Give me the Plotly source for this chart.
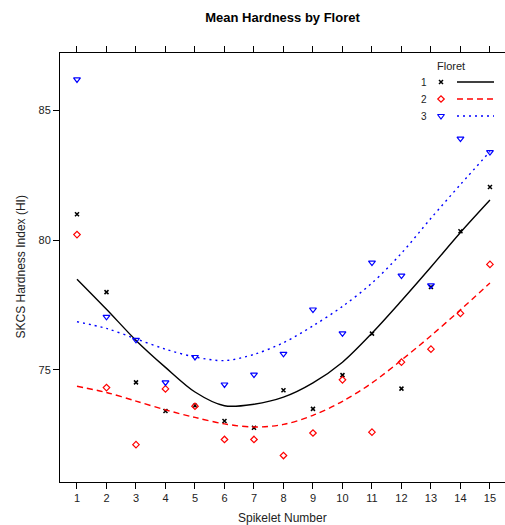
import plotly.graph_objects as go

# ---- data ----
spikelet = list(range(1, 16))
floret1 = [81.0, 78.0, 74.52, 73.42, 73.62, 73.03, 72.77, 74.22, 73.5, 74.8, 76.4, 74.28, 78.2, 80.35, 82.05]
floret2 = [80.22, 74.32, 72.12, 74.27, 73.6, 72.32, 72.32, 71.7, 72.57, 74.62, 72.6, 75.3, 75.8, 77.18, 79.07]
floret3 = [86.2, 77.05, 76.16, 74.52, 75.5, 74.44, 74.82, 75.62, 77.33, 76.41, 79.14, 78.64, 78.26, 83.92, 83.4]

# smooth (loess-like) curves
fit1 = [78.5, 77.34, 76.14, 75.1, 74.15, 73.62, 73.68, 73.95, 74.5, 75.3, 76.42, 77.67, 78.97, 80.3, 81.55]
fit2 = [74.37, 74.13, 73.8, 73.46, 73.17, 72.92, 72.8, 72.9, 73.25, 73.79, 74.5, 75.38, 76.32, 77.32, 78.35]
fit3 = [76.86, 76.6, 76.2, 75.8, 75.5, 75.36, 75.6, 76.05, 76.7, 77.45, 78.35, 79.5, 80.85, 82.15, 83.42]

florets = ["1", "2", "3"]
y_ticks = [75, 80, 85]

FONT = "Liberation Sans, Arial, sans-serif"
styles = [
    dict(color="#000000", symbol="x-thin", size=4, mlw=1.5, dash="solid"),
    dict(color="#FF0000", symbol="diamond-open", size=5, mlw=1.2, dash="6px,4px"),
    dict(color="#0000FF", symbol="triangle-down-open", size=6, mlw=1.2, dash="2px,4px"),
]

fig = go.Figure()
for pts, fit, st in zip([floret1, floret2, floret3], [fit1, fit2, fit3], styles):
    fig.add_trace(go.Scatter(
        x=spikelet, y=fit, mode="lines",
        line=dict(color=st["color"], width=1.4, dash=st["dash"], shape="spline", smoothing=0.9),
        hoverinfo="skip"))
    fig.add_trace(go.Scatter(
        x=spikelet, y=pts, mode="markers",
        marker=dict(symbol=st["symbol"], size=st["size"], color=st["color"],
                    line=dict(color=st["color"], width=st["mlw"]))))

# ---- legend drawn in a pixel-like overlay axis ----
leg_y = [82, 99, 116]
for lab, ly, st in zip(florets, leg_y, styles):
    fig.add_trace(go.Scatter(
        x=[441], y=[ly], mode="markers", xaxis="x2", yaxis="y2",
        marker=dict(symbol=st["symbol"], size=st["size"], color=st["color"],
                    line=dict(color=st["color"], width=st["mlw"]))))
    fig.add_trace(go.Scatter(
        x=[457, 494], y=[ly, ly], mode="lines", xaxis="x2", yaxis="y2",
        line=dict(color=st["color"], width=1.4, dash=st["dash"])))
    fig.add_annotation(x=424, y=ly, xref="x2", yref="y2", text=lab, showarrow=False,
                       font=dict(family=FONT, size=10, color="#222"))
fig.add_annotation(x=451, y=66, xref="x2", yref="y2", text="Floret", showarrow=False,
                   font=dict(family=FONT, size=11, color="#222"))

# axis titles
fig.add_annotation(x=0.5, y=0, xref="paper", yref="paper", yanchor="middle", yshift=-36,
                   text="Spikelet Number", showarrow=False,
                   font=dict(family=FONT, size=12, color="#222"))
fig.add_annotation(x=0, y=0.5, xref="paper", yref="paper", xanchor="center", xshift=-40,
                   text="SKCS Hardness Index (HI)", textangle=-90, showarrow=False,
                   font=dict(family=FONT, size=12, color="#222"))

fig.update_layout(
    width=505, height=525,
    margin=dict(l=60, r=0, t=53, b=43),
    plot_bgcolor="white", paper_bgcolor="white",
    showlegend=False,
    font=dict(family=FONT, size=11, color="#222"),
    title=dict(text="<b>Mean Hardness by Floret</b>", x=0.5, xref="paper",
               y=1 - 17 / 525, yref="container", yanchor="middle",
               font=dict(family=FONT, size=13, color="#000")),
    xaxis=dict(range=[0.424, 15.51], tickvals=spikelet, ticktext=[str(v) for v in spikelet],
               ticks="outside", ticklen=6, tickcolor="#000", showline=True, linecolor="#000",
               linewidth=1, mirror="ticks", showgrid=False, zeroline=False,
               tickfont=dict(size=11, color="#222")),
    yaxis=dict(range=[70.68, 87.22], tickvals=y_ticks, ticktext=[str(v) for v in y_ticks],
               ticks="outside", ticklen=6, tickcolor="#000", showline=True, linecolor="#000",
               linewidth=1, mirror=False, showgrid=False, zeroline=False,
               tickfont=dict(size=11, color="#222")),
    xaxis2=dict(overlaying="x", range=[60, 505], visible=False, fixedrange=True),
    yaxis2=dict(overlaying="y", range=[482, 53], visible=False, fixedrange=True),
)

fig.write_html("out.html")
